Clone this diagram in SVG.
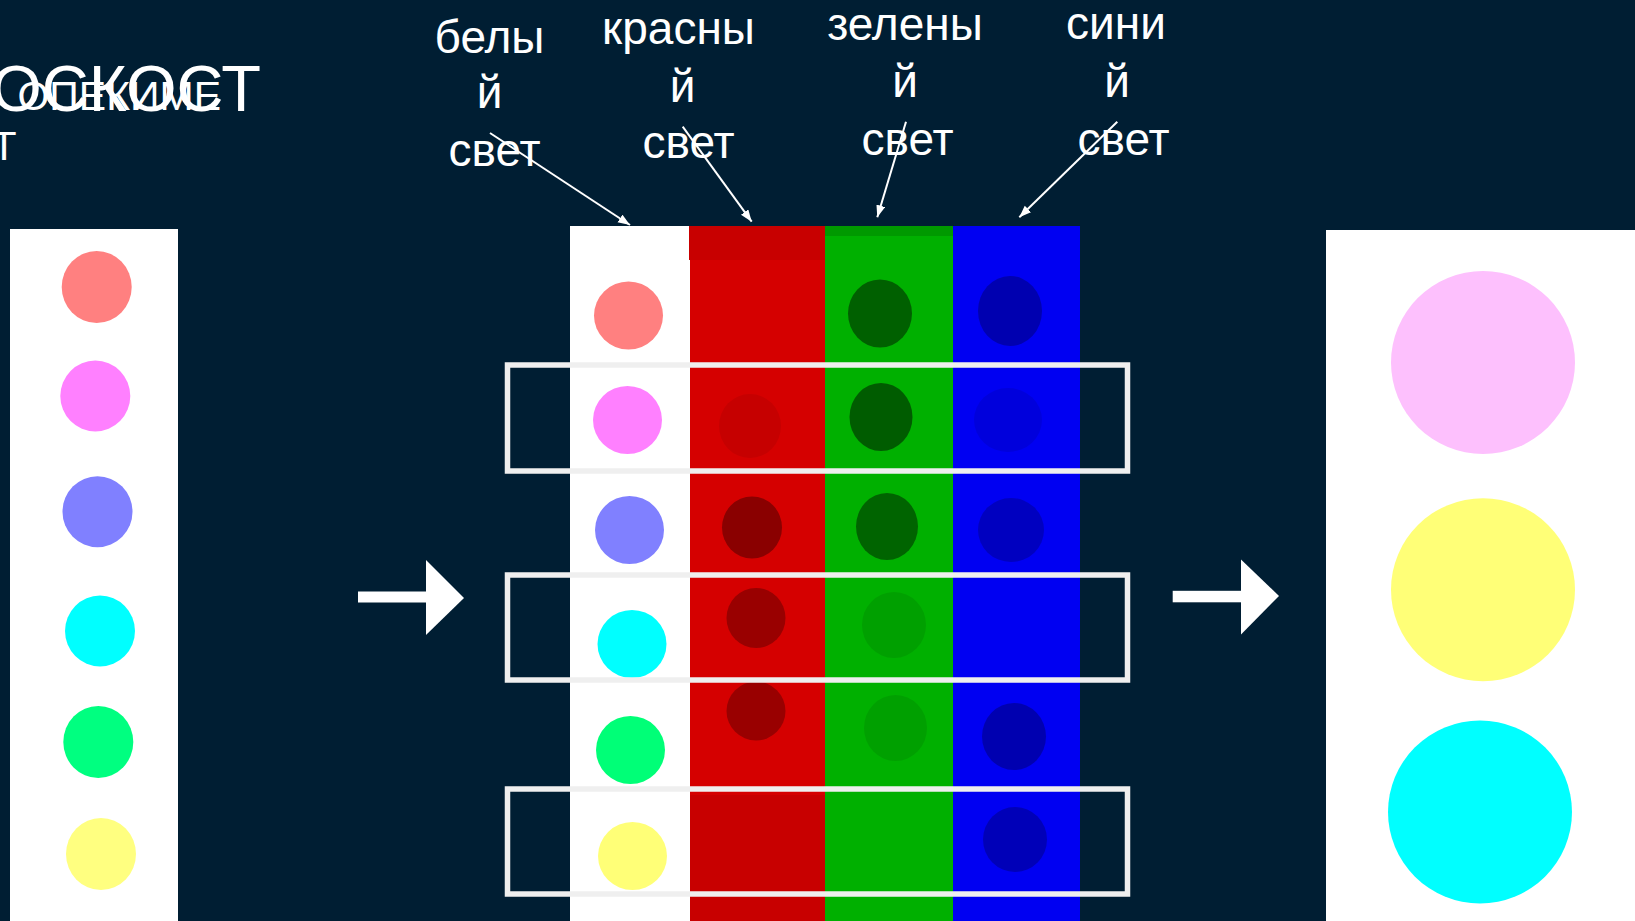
<svg xmlns="http://www.w3.org/2000/svg" width="1635" height="921" viewBox="0 0 1635 921">
<style>
.lbl{font-family:"Liberation Sans",Arial,sans-serif;font-size:46px;fill:#ffffff;text-anchor:middle}
.title{font-family:"Liberation Sans",Arial,sans-serif;fill:#ffffff}
.ptr{stroke:#ffffff;stroke-width:2;fill:none}
.box{fill:none;stroke:#efefef;stroke-width:5.5}
.panel{fill:#ffffff}
</style>
<defs>
<marker id="ah" markerUnits="userSpaceOnUse" markerWidth="13" markerHeight="10" refX="12" refY="4.5" orient="auto">
<path d="M0,0 L12,4.5 L0,9 z" fill="#ffffff"/>
</marker>
</defs>
<rect x="0" y="0" width="1635" height="921" fill="#001e33"/>

<g id="title">
<text class="title" x="261" y="111" font-size="65" text-anchor="end">ОСКОСТ</text>
<text class="title" x="221" y="110" font-size="41" text-anchor="end">ОПЕКИМЕ</text>
<text class="title" x="4" y="160" font-size="41" text-anchor="middle">Т</text>
</g>

<g id="left-panel">
<rect class="panel" x="10" y="229" width="168" height="692"/>
<ellipse cx="96.7" cy="287" rx="35" ry="36" fill="#ff8080"/>
<ellipse cx="95.3" cy="396" rx="35" ry="35.5" fill="#ff80ff"/>
<ellipse cx="97.5" cy="511.7" rx="35" ry="35.5" fill="#8080ff"/>
<ellipse cx="100" cy="631" rx="35" ry="35.5" fill="#00ffff"/>
<ellipse cx="98.3" cy="742" rx="35" ry="36" fill="#00ff80"/>
<ellipse cx="101" cy="854" rx="35" ry="36" fill="#ffff80"/>
</g>

<g id="arrow-left">
<rect x="358" y="591.5" width="70" height="11" fill="#ffffff"/>
<polygon points="426,560 464,598 426,635" fill="#ffffff"/>
</g>

<g id="strip-white">
<rect x="570" y="226" width="120" height="695" fill="#ffffff"/>
<ellipse cx="628.5" cy="315.5" rx="34.5" ry="34" fill="#ff8080"/>
<ellipse cx="627.5" cy="420" rx="34.5" ry="34" fill="#ff80ff"/>
<ellipse cx="629.5" cy="530" rx="34.5" ry="34" fill="#8080ff"/>
<ellipse cx="632" cy="644" rx="34.5" ry="34" fill="#00ffff"/>
<ellipse cx="630.5" cy="750" rx="34.5" ry="34" fill="#00ff77"/>
<ellipse cx="632.5" cy="856" rx="34.5" ry="34" fill="#ffff77"/>
</g>

<g id="strip-red">
<rect x="690" y="226" width="135" height="695" fill="#d50000"/>
<rect x="689" y="226" width="136" height="34" fill="#c80000"/>
<rect x="690" y="795" width="135" height="126" fill="#c80000"/>
<ellipse cx="750" cy="426" rx="31" ry="32" fill="#c60000"/>
<ellipse cx="752" cy="527.5" rx="30" ry="31" fill="#8a0000"/>
<ellipse cx="756" cy="618" rx="29.5" ry="30" fill="#990000"/>
<ellipse cx="756" cy="711" rx="29.5" ry="29.5" fill="#990000"/>
</g>

<g id="strip-green">
<rect x="825" y="226" width="128" height="695" fill="#00b000"/>
<rect x="825" y="226" width="128" height="10" fill="#009900"/>
<ellipse cx="880" cy="313.5" rx="32" ry="34" fill="#006000"/>
<ellipse cx="881" cy="417" rx="31.5" ry="34" fill="#005c00"/>
<ellipse cx="887" cy="526.5" rx="31" ry="33.5" fill="#006400"/>
<ellipse cx="894" cy="625" rx="32" ry="33" fill="#00a000"/>
<ellipse cx="895.5" cy="728" rx="31.5" ry="33" fill="#00a000"/>
</g>

<g id="strip-blue">
<rect x="953" y="226" width="127" height="695" fill="#0000f2"/>
<ellipse cx="1010" cy="311" rx="32" ry="35" fill="#0000b0"/>
<ellipse cx="1008" cy="420" rx="34" ry="32" fill="#0000dc"/>
<ellipse cx="1011" cy="530" rx="33" ry="32" fill="#0000c0"/>
<ellipse cx="1014" cy="736.5" rx="32" ry="33.5" fill="#0000b0"/>
<ellipse cx="1015" cy="839.5" rx="32" ry="32.5" fill="#0000b8"/>
</g>

<g id="row-boxes">
<rect class="box" x="507.5" y="365" width="620" height="106"/>
<rect class="box" x="507.5" y="575" width="620" height="105"/>
<rect class="box" x="507.5" y="789" width="620" height="105"/>
</g>

<g id="arrow-right">
<rect x="1172.7" y="590.8" width="70" height="11.5" fill="#ffffff"/>
<polygon points="1241,559.5 1279,596 1241,634.5" fill="#ffffff"/>
</g>

<g id="right-panel">
<rect class="panel" x="1326" y="230" width="309" height="691"/>
<ellipse cx="1483" cy="362.5" rx="92" ry="91.5" fill="#fdc0fd"/>
<ellipse cx="1483" cy="589.7" rx="92" ry="91.5" fill="#ffff77"/>
<ellipse cx="1480" cy="812" rx="92" ry="91.5" fill="#00ffff"/>
</g>

<g id="label-white">
<text class="lbl" x="489.5" y="53">белы</text>
<text class="lbl" x="489.7" y="108">й</text>
<text class="lbl" x="494.5" y="166">свет</text>
</g>
<g id="label-red">
<text class="lbl" x="678.5" y="44">красны</text>
<text class="lbl" x="682.5" y="102">й</text>
<text class="lbl" x="688.5" y="158">свет</text>
</g>
<g id="label-green">
<text class="lbl" x="905" y="40">зелены</text>
<text class="lbl" x="905" y="97">й</text>
<text class="lbl" x="907.5" y="155">свет</text>
</g>
<g id="label-blue">
<text class="lbl" x="1116" y="39">сини</text>
<text class="lbl" x="1117" y="97">й</text>
<text class="lbl" x="1123.5" y="155">свет</text>
</g>

<g id="connectors">
<line class="ptr" x1="490" y1="133" x2="630" y2="225" marker-end="url(#ah)"/>
<line class="ptr" x1="682.7" y1="126.7" x2="751.7" y2="221.7" marker-end="url(#ah)"/>
<line class="ptr" x1="906" y1="121.7" x2="877.3" y2="217.3" marker-end="url(#ah)"/>
<line class="ptr" x1="1117.3" y1="121.7" x2="1019.3" y2="217.3" marker-end="url(#ah)"/>
</g>
</svg>
